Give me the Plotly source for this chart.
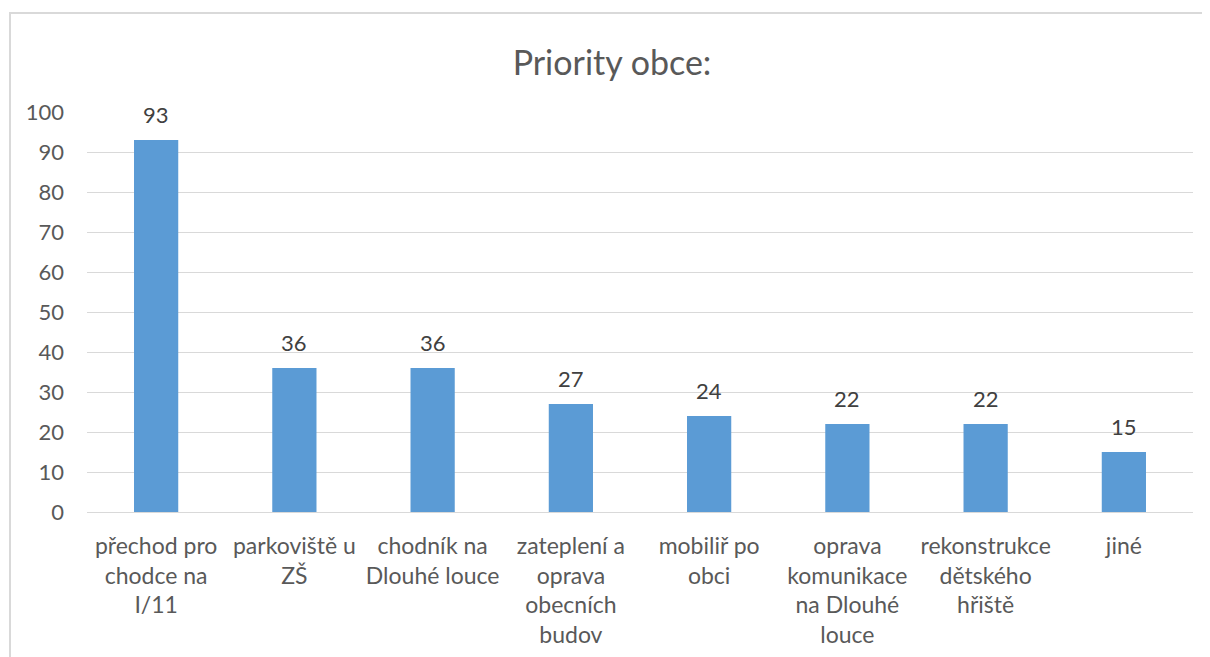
import plotly.graph_objects as go

categories = [
    "přechod pro<br>chodce na<br>I/11",
    "parkoviště u<br>ZŠ",
    "chodník na<br>Dlouhé louce",
    "zateplení a<br>oprava<br>obecních<br>budov",
    "mobiliř po<br>obci",
    "oprava<br>komunikace<br>na Dlouhé<br>louce",
    "rekonstrukce<br>dětského<br>hřiště",
    "jiné",
]
values = [93, 36, 36, 27, 24, 22, 22, 15]
y_ticks = [0, 10, 20, 30, 40, 50, 60, 70, 80, 90, 100]

FONT = "Lato, Open Sans, sans-serif"
OFF = 8  # page body margin
W, H = 1210, 657
L, R, T, B = 87 - OFF, 17 + OFF, 112 - OFF, 145 + OFF
pw, ph = W - L - R, H - T - B

fig = go.Figure(go.Bar(
    x=list(range(len(categories))),
    y=values,
    marker=dict(color="#5b9bd5", line=dict(width=0)),
    width=0.32,
    hoverinfo="x+y",
))

for i, v in enumerate(values):
    fig.add_annotation(x=i, y=v, text=str(v), showarrow=False, yanchor="bottom",
                       yshift=10, font=dict(family=FONT, size=22, color="#404040"))

fig.update_layout(
    width=W, height=H,
    margin=dict(l=L, r=R, t=T, b=B),
    paper_bgcolor="white", plot_bgcolor="white",
    title=dict(text="Priority obce:", x=(612 - OFF) / W,
               xanchor="center", y=1 - (63 - OFF) / H, yanchor="middle",
               font=dict(family=FONT, size=34, color="#595959")),
    showlegend=False,
    xaxis=dict(
        tickmode="array", tickvals=list(range(len(categories))), ticktext=categories,
        range=[-0.5, len(categories) - 0.5],
        tickfont=dict(family=FONT, size=23, color="#595959"),
        showgrid=False, zeroline=False, ticks="", showline=True, linecolor="#d9d9d9", linewidth=1,
        tickangle=0, ticklabelstandoff=13,
    ),
    yaxis=dict(
        range=[0, 100], tickmode="array", tickvals=y_ticks,
        tickfont=dict(family=FONT, size=22, color="#595959"),
        showgrid=True, gridcolor="#d9d9d9", gridwidth=1, zeroline=False, ticks="",
        ticklabelstandoff=22,
    ),
    shapes=[dict(
        type="rect", xref="paper", yref="paper",
        x0=(10 - OFF - L) / pw, x1=(W + 20 - L) / pw,
        y0=-(H + 20 - T - ph) / ph, y1=1 + (T - (13 - OFF)) / ph,
        line=dict(color="#d9d9d9", width=2), fillcolor="rgba(0,0,0,0)", layer="below",
    )],
)

fig.write_html("out.html")
